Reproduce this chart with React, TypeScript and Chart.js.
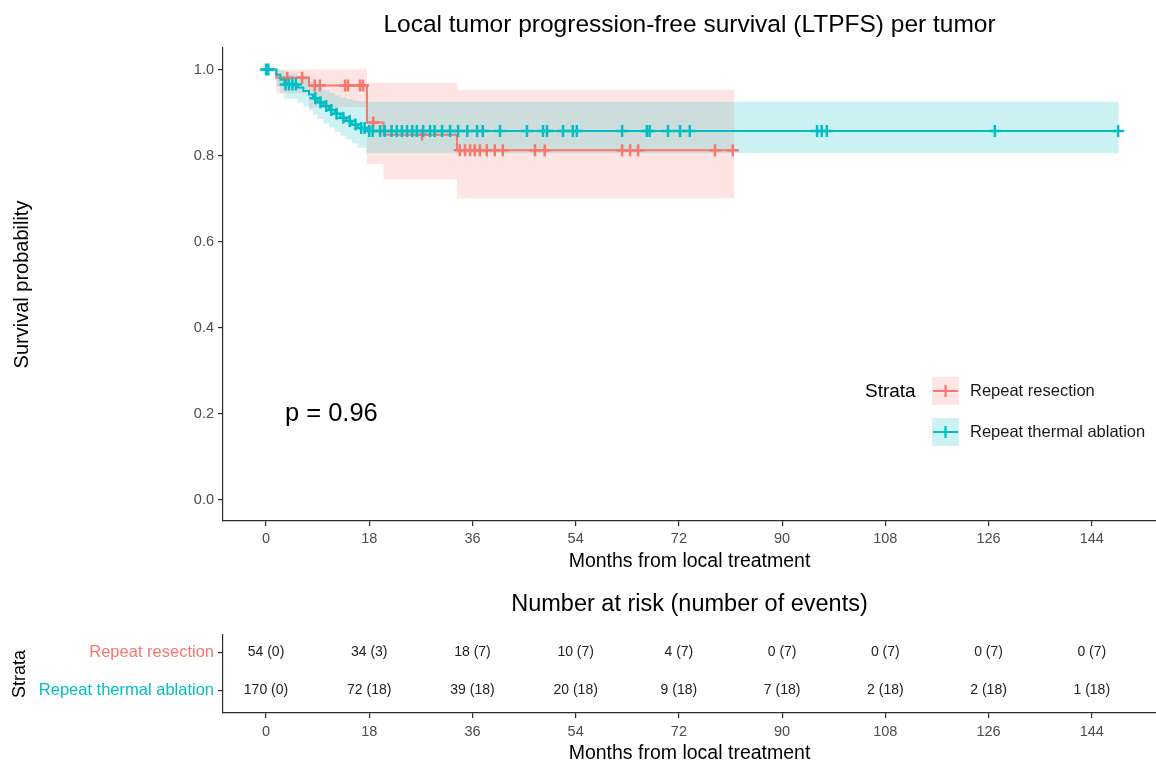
import React, { useEffect, useRef } from 'react';
import { Chart, registerables } from 'chart.js';
Chart.register(...registerables);

const FONT = '"Liberation Sans", Arial, Helvetica, sans-serif';
const RED = '#F8766D';
const CYAN = '#00BFC4';
const RED_BAND = 'rgba(248,118,109,0.2)';
const CYAN_BAND = 'rgba(0,191,196,0.2)';

// ---------- data ----------
const strata = ['Repeat resection', 'Repeat thermal ablation'];
const xTicks = [0, 18, 36, 54, 72, 90, 108, 126, 144];
const yTicks = [0, 0.2, 0.4, 0.6, 0.8, 1.0];

// Repeat resection: KM steps
const resTimes = [0, 1.8, 7.5, 17.6, 20.5, 33.3, 81.6];
const resSurv = [1, 0.981, 0.963, 0.877, 0.848, 0.812, 0.812];
const resUpper = [1, 1, 1, 0.97, 0.97, 0.953, 0.953];
const resLower = [1, 0.945, 0.912, 0.78, 0.745, 0.7, 0.7];
const resCensor = [3.7, 6.3, 8.5, 9.4, 13.8, 14.3, 16.4, 16.9, 18.7, 27.2, 33.8, 34.7, 35.6, 36.4, 37.3, 38.5, 39.9, 41.3, 46.9, 48.6, 62.1, 63.5, 64.9, 78.3, 81.4];

// Repeat thermal ablation: KM steps
const ablTimes = [0, 1.8, 2.5, 3.2, 5.5, 6.5, 7.5, 8.2, 9, 10, 11, 12, 13, 14, 15, 16, 17.5, 148.7];
const ablSurv = [1, 0.988, 0.976, 0.965, 0.958, 0.95, 0.942, 0.933, 0.924, 0.915, 0.906, 0.897, 0.888, 0.88, 0.872, 0.864, 0.857, 0.857];
const ablUpper = [1, 1, 0.998, 0.99, 0.985, 0.978, 0.972, 0.965, 0.958, 0.952, 0.946, 0.94, 0.935, 0.931, 0.928, 0.926, 0.925, 0.925];
const ablLower = [1, 0.96, 0.945, 0.932, 0.923, 0.914, 0.905, 0.895, 0.885, 0.875, 0.865, 0.855, 0.846, 0.837, 0.828, 0.818, 0.805, 0.805];
const ablCensor = [0, 0.4, 3.4, 4.0, 4.6, 5.2, 8.6, 9.5, 10.5, 11.4, 12.3, 13.5, 14.6, 15.6, 16.6, 17.2, 18.0, 18.6,
  19.9, 20.7, 21.9, 22.8, 23.7, 24.6, 25.5, 26.3, 27.4, 28.6, 29.4, 30.7, 32.1, 33.5, 35.1, 36.8, 37.8, 40.8, 45.5,
  48.3, 49.0, 51.8, 53.5, 54.2, 62.1, 66.4, 66.9, 70.1, 72.2, 73.9, 96.1, 96.9, 97.8, 127.1, 148.6];

// Number at risk table
const riskTimes = [0, 18, 36, 54, 72, 90, 108, 126, 144];
const resAtRisk = [54, 34, 18, 10, 4, 0, 0, 0, 0];
const resEvents = [0, 3, 7, 7, 7, 7, 7, 7, 7];
const ablAtRisk = [170, 72, 39, 20, 9, 7, 2, 2, 1];
const ablEvents = [0, 18, 18, 18, 18, 18, 18, 18, 18];

const pValueLabel = 'p = 0.96';
const mainTitle = 'Local tumor progression-free survival (LTPFS) per tumor';
const riskTitle = 'Number at risk (number of events)';
const xTitle = 'Months from local treatment';
const yTitle = 'Survival probability';

// ---------- helpers ----------
function stepValue(times: number[], vals: number[], t: number) {
  let v = vals[0];
  for (let i = 0; i < times.length; i++) if (times[i] <= t) v = vals[i];
  return v;
}
const pts = (xs: number[], ys: number[]) => xs.map((x, i) => ({ x, y: ys[i] }));

const X_MIN = -7.5;
const X_MAX = 155.2;

function bandDs(times: number[], vals: number[], fill: any, bg: string, order: number) {
  return {
    data: pts(times, vals), stepped: true, borderColor: 'rgba(0,0,0,0)', borderWidth: 0,
    pointRadius: 0, fill, backgroundColor: bg, order,
  };
}
function lineDs(times: number[], vals: number[], color: string, order: number) {
  return {
    data: pts(times, vals), stepped: true, borderColor: color, borderWidth: 2,
    pointRadius: 0, fill: false, order,
  };
}
function censorDs(cens: number[], times: number[], vals: number[], color: string, order: number) {
  return {
    data: cens.map((t) => ({ x: t, y: stepValue(times, vals, t) })), showLine: false,
    pointStyle: 'cross', pointRadius: 6, pointBorderWidth: 2.5, pointBorderColor: color,
    pointBackgroundColor: color, borderColor: color, fill: false, order,
  };
}

const axisColor = '#2b2b2b';
const tickColor = '#4d4d4d';

const mainPlugin = {
  id: 'mainDecor',
  afterDraw(chart: any) {
    const { ctx, chartArea, scales } = chart;
    const cx = (chartArea.left + chartArea.right) / 2;
    const cy = (chartArea.top + chartArea.bottom) / 2;
    ctx.save();
    ctx.textBaseline = 'middle';
    ctx.fillStyle = '#000';
    ctx.textAlign = 'center';
    ctx.font = `24.5px ${FONT}`;
    ctx.fillText(mainTitle, cx, 25);
    ctx.font = `19.5px ${FONT}`;
    ctx.fillText(xTitle, cx, 562);
    ctx.save();
    ctx.translate(22, cy);
    ctx.rotate(-Math.PI / 2);
    ctx.font = `20px ${FONT}`;
    ctx.fillText(yTitle, 0, 0);
    ctx.restore();
    // p-value
    ctx.textAlign = 'left';
    ctx.font = `25.5px ${FONT}`;
    ctx.fillText(pValueLabel, scales.x.getPixelForValue(3.3), scales.y.getPixelForValue(0.2));
    // legend
    ctx.font = `19px ${FONT}`;
    ctx.fillText('Strata', 865, 392);
    const keys = [
      { y: 391, color: RED, band: RED_BAND, label: strata[0] },
      { y: 432, color: CYAN, band: CYAN_BAND, label: strata[1] },
    ];
    keys.forEach((k) => {
      ctx.fillStyle = k.band;
      ctx.fillRect(932, k.y - 14, 27, 28);
      ctx.strokeStyle = k.color;
      ctx.lineWidth = 2.2;
      ctx.beginPath();
      ctx.moveTo(933, k.y);
      ctx.lineTo(958, k.y);
      ctx.moveTo(945.5, k.y - 6);
      ctx.lineTo(945.5, k.y + 6);
      ctx.stroke();
      ctx.fillStyle = '#1a1a1a';
      ctx.font = `16.5px ${FONT}`;
      ctx.fillText(k.label, 970, k.y);
    });
    ctx.restore();
  },
};

const riskPlugin = {
  id: 'riskDecor',
  afterDraw(chart: any) {
    const { ctx, chartArea, scales } = chart;
    const cx = (chartArea.left + chartArea.right) / 2;
    const cy = (chartArea.top + chartArea.bottom) / 2;
    ctx.save();
    ctx.textBaseline = 'middle';
    ctx.textAlign = 'center';
    ctx.fillStyle = '#000';
    ctx.font = `23.5px ${FONT}`;
    ctx.fillText(riskTitle, cx, 25);
    ctx.font = `19.5px ${FONT}`;
    ctx.fillText(xTitle, cx, 174);
    ctx.save();
    ctx.translate(20, cy);
    ctx.rotate(-Math.PI / 2);
    ctx.font = `18px ${FONT}`;
    ctx.fillText('Strata', 0, 0);
    ctx.restore();
    ctx.font = `14px ${FONT}`;
    ctx.fillStyle = '#222';
    riskTimes.forEach((t, i) => {
      const x = scales.x.getPixelForValue(t);
      ctx.fillText(`${resAtRisk[i]} (${resEvents[i]})`, x, scales.y.getPixelForValue(2));
      ctx.fillText(`${ablAtRisk[i]} (${ablEvents[i]})`, x, scales.y.getPixelForValue(1));
    });
    ctx.restore();
  },
};

function xScale(height: number, pad: number) {
  return {
    type: 'linear', min: X_MIN, max: X_MAX,
    afterBuildTicks: (s: any) => { s.ticks = xTicks.map((v) => ({ value: v })); },
    afterFit: (s: any) => { s.height = height; },
    ticks: { autoSkip: false, maxRotation: 0, padding: pad, color: tickColor, font: { family: FONT, size: 14.5 }, callback: (v: any) => String(v) },
    grid: { drawOnChartArea: false, drawTicks: true, tickLength: 5, color: axisColor, lineWidth: 1.2 },
    border: { display: true, color: axisColor, width: 1.2 },
  };
}

export default function App() {
  const mainRef = useRef<HTMLCanvasElement>(null);
  const riskRef = useRef<HTMLCanvasElement>(null);

  useEffect(() => {
    const main = new Chart(mainRef.current as HTMLCanvasElement, {
      type: 'line',
      data: {
        datasets: [
          bandDs(resTimes, resUpper, false, RED_BAND, 10),
          bandDs(resTimes, resLower, '-1', RED_BAND, 10),
          bandDs(ablTimes, ablUpper, false, CYAN_BAND, 9),
          bandDs(ablTimes, ablLower, '-1', CYAN_BAND, 9),
          lineDs(resTimes, resSurv, RED, 3),
          lineDs(ablTimes, ablSurv, CYAN, 1),
          censorDs(resCensor, resTimes, resSurv, RED, 2),
          censorDs(ablCensor, ablTimes, ablSurv, CYAN, 0),
        ] as any,
      },
      options: {
        responsive: false, maintainAspectRatio: false, animation: false, devicePixelRatio: 1,
        layout: { autoPadding: false, padding: { top: 48, right: 0, left: 0, bottom: 0 } },
        plugins: { legend: { display: false }, tooltip: { enabled: false }, title: { display: false } },
        scales: {
          x: xScale(59, 4) as any,
          y: {
            type: 'linear', min: -0.05, max: 1.05,
            afterBuildTicks: (s: any) => { s.ticks = yTicks.map((v) => ({ value: v })); },
            afterFit: (s: any) => { s.width = 223; },
            ticks: { padding: 4, color: tickColor, font: { family: FONT, size: 14.5 }, callback: (v: any) => Number(v).toFixed(1) },
            grid: { drawOnChartArea: false, drawTicks: true, tickLength: 5, color: axisColor, lineWidth: 1.2 },
            border: { display: true, color: axisColor, width: 1.2 },
          } as any,
        },
      },
      plugins: [mainPlugin],
    } as any);

    const risk = new Chart(riskRef.current as HTMLCanvasElement, {
      type: 'line',
      data: { datasets: [] },
      options: {
        responsive: false, maintainAspectRatio: false, animation: false, devicePixelRatio: 1,
        layout: { autoPadding: false, padding: { top: 55, right: 0, left: 0, bottom: 0 } },
        plugins: { legend: { display: false }, tooltip: { enabled: false } },
        scales: {
          x: xScale(52, 5) as any,
          y: {
            type: 'linear', min: 0.4, max: 2.45,
            afterBuildTicks: (s: any) => { s.ticks = [1, 2].map((v) => ({ value: v })); },
            afterFit: (s: any) => { s.width = 223; },
            ticks: {
              padding: 4, font: { family: FONT, size: 16.5 },
              color: (c: any) => (c.tick && c.tick.value === 2 ? RED : CYAN),
              callback: (v: any) => (Number(v) === 2 ? strata[0] : strata[1]),
            },
            grid: { drawOnChartArea: false, drawTicks: true, tickLength: 5, color: axisColor, lineWidth: 1.2 },
            border: { display: true, color: axisColor, width: 1.2 },
          } as any,
        },
      },
      plugins: [riskPlugin],
    } as any);

    return () => { main.destroy(); risk.destroy(); };
  }, []);

  return (
    <div style={{ position: 'absolute', left: 0, top: 0, width: 1156, height: 765, background: '#fff', overflow: 'hidden' }}>
      <canvas ref={mainRef} width={1156} height={580} style={{ position: 'absolute', left: 0, top: 0, width: 1156, height: 580 }} />
      <canvas ref={riskRef} width={1156} height={185} style={{ position: 'absolute', left: 0, top: 580, width: 1156, height: 185 }} />
    </div>
  );
}
